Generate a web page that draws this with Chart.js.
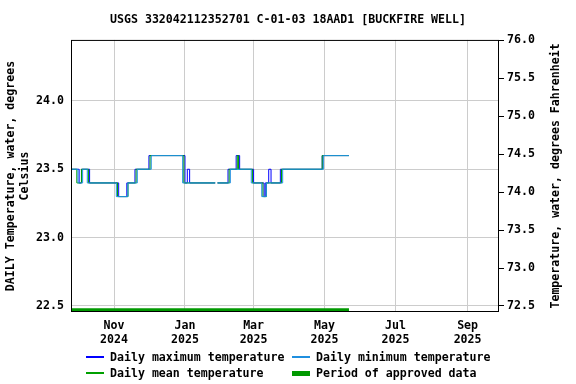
<!DOCTYPE html>
<html lang="en">
<head>
<meta charset="utf-8">
<title>USGS 332042112352701 C-01-03 18AAD1 [BUCKFIRE WELL]</title>
<script src="https://cdn.jsdelivr.net/npm/chart.js@4.4.1/dist/chart.umd.min.js"></script>
<style>
  body { margin: 0; background: #fff; }
  #wrap { position: relative; width: 576px; height: 384px; }
  #legend { font: bold 11.6px "DejaVu Sans Mono", monospace; color: #000; }
  .item { position: absolute; display: flex; align-items: center; white-space: nowrap; height: 14px; }
  .swatch { width: 18px; margin-right: 6px; }
</style>
</head>
<body>
<div id="wrap">
  <canvas id="chart" width="576" height="384"></canvas>
  <div id="legend">
    <div class="item" style="left:86px; top:350px"><span class="swatch" style="height:2px; background:#0000ff"></span>Daily maximum temperature</div>
    <div class="item" style="left:292px; top:350px"><span class="swatch" style="height:2px; background:#1f8fdf"></span>Daily minimum temperature</div>
    <div class="item" style="left:86px; top:366px"><span class="swatch" style="height:2px; background:#00a000"></span>Daily mean temperature</div>
    <div class="item" style="left:292px; top:366px"><span class="swatch" style="height:5px; background:#009900"></span>Period of approved data</div>
  </div>
</div>

<script>
// axis ticks
const xTickDates = ['2024-11-01', '2025-01-01', '2025-03-01', '2025-05-01', '2025-07-01', '2025-09-01'];
const xTickLabels = [['Nov', '2024'], ['Jan', '2025'], ['Mar', '2025'], ['May', '2025'], ['Jul', '2025'], ['Sep', '2025']];
const celsiusTicks = [22.5, 23.0, 23.5, 24.0];
const fahrenheitTicks = [72.5, 73.0, 73.5, 74.0, 74.5, 75.0, 75.5, 76.0];
const xRange = ['2024-09-25', '2025-09-28'];
const yRange = [22.456, 24.446];

// daily values, listed where the value changes (null = no data)
const maxDates = ['2024-09-25', '2024-10-02', '2024-10-04', '2024-10-11', '2024-11-05', '2024-11-12',
  '2024-11-19', '2024-12-01', '2025-01-01', '2025-01-03', '2025-01-05', '2025-01-27', '2025-01-28',
  '2025-01-29', '2025-02-07', '2025-02-14', '2025-02-17', '2025-03-01', '2025-03-10', '2025-03-11',
  '2025-03-14', '2025-03-16', '2025-03-24', '2025-04-29', '2025-05-22'];
const maxValues = [23.5, 23.4, 23.5, 23.4, 23.3, 23.4,
  23.5, 23.6, 23.4, 23.5, 23.4, 23.4, null,
  23.4, 23.5, 23.6, 23.5, 23.4, 23.3, 23.4,
  23.5, 23.4, 23.5, 23.6, 23.6];

const minDates = ['2024-09-25', '2024-10-01', '2024-10-05', '2024-10-09', '2024-11-03', '2024-11-13',
  '2024-11-21', '2024-12-03', '2024-12-30', '2025-01-27', '2025-01-28', '2025-01-29', '2025-02-09',
  '2025-02-27', '2025-03-08', '2025-03-12', '2025-03-26', '2025-04-30', '2025-05-22'];
const minValues = [23.5, 23.4, 23.5, 23.4, 23.3, 23.4,
  23.5, 23.6, 23.4, 23.4, null, 23.4, 23.5,
  23.4, 23.3, 23.4, 23.5, 23.6, 23.6];

const meanDates = ['2024-09-25', '2024-09-30', '2024-10-04', '2024-10-10', '2024-11-04', '2024-11-13',
  '2024-11-20', '2024-12-02', '2024-12-31', '2025-01-27', '2025-01-28', '2025-01-29', '2025-02-08',
  '2025-02-15', '2025-02-16', '2025-02-28', '2025-03-09', '2025-03-12', '2025-03-25', '2025-04-29',
  '2025-05-22'];
const meanValues = [23.5, 23.4, 23.5, 23.4, 23.3, 23.4,
  23.5, 23.6, 23.4, 23.4, null, 23.4, 23.5,
  23.6, 23.5, 23.4, 23.3, 23.4, 23.5, 23.6,
  23.6];

const approvedPeriod = ['2024-09-25', '2025-05-22'];

const day = s => Date.parse(s) / 86400000;
const points = (dates, values) => dates.map((d, i) => ({ x: day(d), y: values[i] }));
const toF = c => c * 1.8 + 32;

const FONT = { family: '"DejaVu Sans Mono", monospace', size: 11.6, weight: 'bold' };
Chart.defaults.font = { ...FONT };
Chart.defaults.color = '#000';

// black box round the plot and the right axis title
const framePlugin = {
  id: 'frame',
  afterDraw(chart) {
    const { ctx, chartArea: a } = chart;
    ctx.save();
    ctx.strokeStyle = '#000';
    ctx.lineWidth = 1;
    ctx.strokeRect(a.left + 0.5, a.top + 0.5, a.right - a.left - 1, a.bottom - a.top - 1);
    ctx.translate(556, (a.top + a.bottom) / 2);
    ctx.rotate(-Math.PI / 2);
    ctx.font = 'bold 11.6px "DejaVu Sans Mono", monospace';
    ctx.fillStyle = '#000';
    ctx.textAlign = 'center';
    ctx.textBaseline = 'middle';
    ctx.fillText('Temperature, water, degrees Fahrenheit', 0, 0);
    ctx.restore();
  }
};

const line = (label, color, data, order) => ({
  label, data, order,
  borderColor: color, backgroundColor: color,
  borderWidth: 1, pointRadius: 0, stepped: true, spanGaps: false, fill: false
});

new Chart(document.getElementById('chart'), {
  type: 'line',
  data: {
    datasets: [
      line('Daily maximum temperature', '#0000ff', points(maxDates, maxValues), 2),
      line('Daily minimum temperature', '#1f8fdf', points(minDates, minValues), 0),
      line('Daily mean temperature', '#00a000', points(meanDates, meanValues), 1),
      {
        label: 'Period of approved data',
        data: approvedPeriod.map(d => ({ x: day(d), y: yRange[0] + 0.012 })),
        borderColor: '#009900', borderWidth: 4, pointRadius: 0, order: 3
      }
    ]
  },
  options: {
    responsive: false,
    animation: false,
    layout: { padding: { left: 0, right: 0, top: 0, bottom: 28 } },
    plugins: {
      legend: { display: false },
      tooltip: { enabled: false },
      title: {
        display: true,
        text: 'USGS 332042112352701 C-01-03 18AAD1 [BUCKFIRE WELL]',
        font: FONT, color: '#000',
        padding: { top: 13, bottom: 13 }
      }
    },
    scales: {
      x: {
        type: 'linear',
        min: day(xRange[0]), max: day(xRange[1]),
        afterBuildTicks: s => { s.ticks = xTickDates.map(d => ({ value: day(d) })); },
        afterFit: s => { s.height = 44; },
        ticks: { callback: (v, i) => xTickLabels[i], maxRotation: 0, autoSkip: false, padding: 7 },
        grid: { color: '#cccccc', drawTicks: false },
        border: { display: false }
      },
      y: {
        position: 'left',
        min: yRange[0], max: yRange[1],
        afterBuildTicks: s => { s.ticks = celsiusTicks.map(v => ({ value: v })); },
        afterFit: s => { s.width = 71; },
        ticks: { callback: v => v.toFixed(1), padding: 7 },
        grid: { color: '#cccccc', drawTicks: false },
        border: { display: false },
        title: {
          display: true,
          text: ['DAILY Temperature, water, degrees', 'Celsius'],
          font: FONT, padding: { top: 4, bottom: 0 }
        }
      },
      y2: {
        position: 'right',
        min: toF(yRange[0]), max: toF(yRange[1]),
        afterBuildTicks: s => { s.ticks = fahrenheitTicks.map(v => ({ value: v })); },
        afterFit: s => { s.width = 77; },
        ticks: { callback: v => v.toFixed(1), padding: 3 },
        grid: { drawOnChartArea: false, drawTicks: true, tickLength: 5, tickColor: '#000' },
        border: { display: false }
      }
    }
  },
  plugins: [framePlugin]
});
</script>
</body>
</html>
